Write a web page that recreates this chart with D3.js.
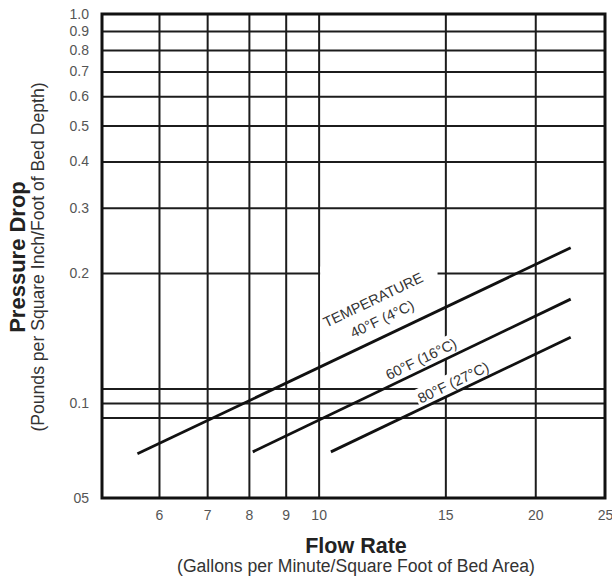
<!DOCTYPE html>
<html>
<head>
<meta charset="utf-8">
<script src="https://cdn.jsdelivr.net/npm/d3@7"></script>
<style>
  html, body { margin: 0; padding: 0; background: #fff; }
  svg { display: block; font-family: "Liberation Sans", Arial, Helvetica, sans-serif; }
</style>
</head>
<body>
<svg id="chart" width="612" height="580"></svg>
<script>
// Pressure drop across the bed against service flow rate, one line per water temperature
const temperatures = ["40°F (4°C)", "60°F (16°C)", "80°F (27°C)"];
const flowRates = [[5.6, 22.4], [8.1, 22.4], [10.4, 22.4]];          // gpm / ft² of bed area
const pressureDrops = [[0.069, 0.234], [0.070, 0.174], [0.070, 0.142]]; // psi / ft of bed depth

// Axis ticks and grid
const xTickValues = [6, 7, 8, 9, 10, 15, 20, 25];
const xGridValues = [6, 7, 8, 9, 10, 15, 20];
const yTickValues = [1.0, 0.9, 0.8, 0.7, 0.6, 0.5, 0.4, 0.3, 0.2, 0.1, 0.05];
const yTickLabels = ["1.0", "0.9", "0.8", "0.7", "0.6", "0.5", "0.4", "0.3", "0.2", "0.1", "05"];
const yGridValues = [0.9, 0.8, 0.7, 0.6, 0.5, 0.4, 0.3, 0.2, 0.108, 0.1, 0.09];

// Where each temperature label sits along its line (flow rate) and how far above it
const labelFlow = [12.54, 14.09, 15.59];
const labelLift = [17, 11, 10];

const svg = d3.select("#chart");
const W = 612, H = 580;
const plot = { left: 102, right: 605, top: 14, bottom: 498 };

svg.append("rect").attr("width", W).attr("height", H).attr("fill", "#fff");

const x = d3.scaleLog().domain([5, 25]).range([plot.left, plot.right]);
// the printed paper stretches the 0.05–0.2 decade slightly unevenly
const y = d3.scaleLog()
  .domain([0.05, 0.1, 0.2, 1])
  .range([plot.bottom, 403, 273, plot.top]);

const ink = "#1c1c1c";

// ---- grid ----
const gridG = svg.append("g");
gridG.append("g")
  .attr("transform", `translate(0,${plot.bottom})`)
  .call(d3.axisBottom(x).tickValues(xGridValues).tickFormat("").tickSize(-(plot.bottom - plot.top)))
  .call(g => g.select(".domain").remove())
  .call(g => g.selectAll("line").attr("stroke", ink).attr("stroke-width", 2));
gridG.append("g")
  .attr("transform", `translate(${plot.left},0)`)
  .call(d3.axisLeft(y).tickValues(yGridValues).tickFormat("").tickSize(-(plot.right - plot.left)))
  .call(g => g.select(".domain").remove())
  .call(g => g.selectAll("line").attr("stroke", ink).attr("stroke-width", 2));

// ---- tick labels ----
svg.append("g")
  .attr("transform", `translate(${plot.left},0)`)
  .call(d3.axisLeft(y).tickValues(yTickValues).tickFormat((d, i) => yTickLabels[i]).tickSize(0).tickPadding(13))
  .call(g => g.select(".domain").remove())
  .call(g => g.selectAll("text")
    .attr("font-family", "'Liberation Sans', Arial, sans-serif")
    .attr("font-size", 14).attr("fill", "#555"));

svg.append("g")
  .attr("transform", `translate(0,${plot.bottom})`)
  .call(d3.axisBottom(x).tickValues(xTickValues).tickFormat(d3.format("d")).tickSize(0).tickPadding(12))
  .call(g => g.select(".domain").remove())
  .call(g => g.selectAll("text")
    .attr("font-family", "'Liberation Sans', Arial, sans-serif")
    .attr("font-size", 14).attr("fill", "#555"));

// ---- label backgrounds and data lines ----
const bgLayer = svg.append("g");
const lineLayer = svg.append("g");
const labelLayer = svg.append("g");

const line = d3.line().x(d => x(d[0])).y(d => y(d[1]));

temperatures.forEach((name, i) => {
  const pts = flowRates[i].map((f, k) => [f, pressureDrops[i][k]]);
  lineLayer.append("path")
    .attr("d", line(pts))
    .attr("fill", "none")
    .attr("stroke", "#111")
    .attr("stroke-width", 2.8)
    .attr("stroke-linecap", "butt");

  const x0 = x(pts[0][0]), y0 = y(pts[0][1]);
  const x1 = x(pts[1][0]), y1 = y(pts[1][1]);
  const angle = Math.atan2(y1 - y0, x1 - x0) * 180 / Math.PI;
  const px = x(labelFlow[i]);
  const py = y0 + (px - x0) * (y1 - y0) / (x1 - x0);

  const g = labelLayer.append("g")
    .attr("transform", `translate(${px},${py}) rotate(${angle})`);

  const rows = i === 0 ? [["TEMPERATURE", -labelLift[i] - 21], [name, -labelLift[i]]]
                       : [[name, -labelLift[i]]];
  rows.forEach(([txt, off]) => {
    g.append("text")
      .attr("x", 0).attr("y", off).attr("dy", "0.36em")
      .attr("text-anchor", "middle")
      .attr("font-size", 14.5)
      .attr("fill", "#333")
      .text(txt);
  });

  const bb = g.node().getBBox();
  const pad = 2;
  if (i === 0) {
    // header block is knocked out of the grid with an upright box, kept clear of the 10 gpm rule
    const rad = angle * Math.PI / 180, c = Math.cos(rad), s = Math.sin(rad);
    const corners = [[bb.x - pad, bb.y - pad], [bb.x + bb.width + pad, bb.y - pad],
                     [bb.x - pad, bb.y + bb.height + pad], [bb.x + bb.width + pad, bb.y + bb.height + pad]]
      .map(([u, v]) => [px + u * c - v * s, py + u * s + v * c]);
    const xs = corners.map(p => p[0]), ys = corners.map(p => p[1]);
    const left = Math.max(d3.min(xs), x(10) + 1.5);
    bgLayer.append("rect")
      .attr("x", left).attr("y", d3.min(ys))
      .attr("width", d3.max(xs) - left).attr("height", d3.max(ys) - d3.min(ys))
      .attr("fill", "#fff");
  } else {
    bgLayer.append("rect")
      .attr("transform", `translate(${px},${py}) rotate(${angle})`)
      .attr("x", bb.x - pad).attr("y", bb.y - pad)
      .attr("width", bb.width + 2 * pad).attr("height", bb.height + 2 * pad)
      .attr("fill", "#fff");
  }
});

// ---- frame ----
svg.append("rect")
  .attr("x", plot.left).attr("y", plot.top)
  .attr("width", plot.right - plot.left).attr("height", plot.bottom - plot.top)
  .attr("fill", "none").attr("stroke", "#111").attr("stroke-width", 3);

// ---- axis titles ----
const cx = 356;
svg.append("text")
  .attr("x", cx).attr("y", 553)
  .attr("text-anchor", "middle").attr("font-size", 21.5).attr("font-weight", "bold").attr("fill", "#222")
  .text("Flow Rate");
svg.append("text")
  .attr("x", cx).attr("y", 572)
  .attr("text-anchor", "middle").attr("font-size", 17.6).attr("fill", "#333")
  .text("(Gallons per Minute/Square Foot of Bed Area)");

const cy = 257;
svg.append("text")
  .attr("transform", `translate(25,${cy}) rotate(-90)`)
  .attr("text-anchor", "middle").attr("font-size", 22).attr("font-weight", "bold").attr("fill", "#222")
  .text("Pressure Drop");
svg.append("text")
  .attr("transform", `translate(44,${cy}) rotate(-90)`)
  .attr("text-anchor", "middle").attr("font-size", 17.6).attr("fill", "#333")
  .text("(Pounds per Square Inch/Foot of Bed Depth)");
</script>
</body>
</html>
